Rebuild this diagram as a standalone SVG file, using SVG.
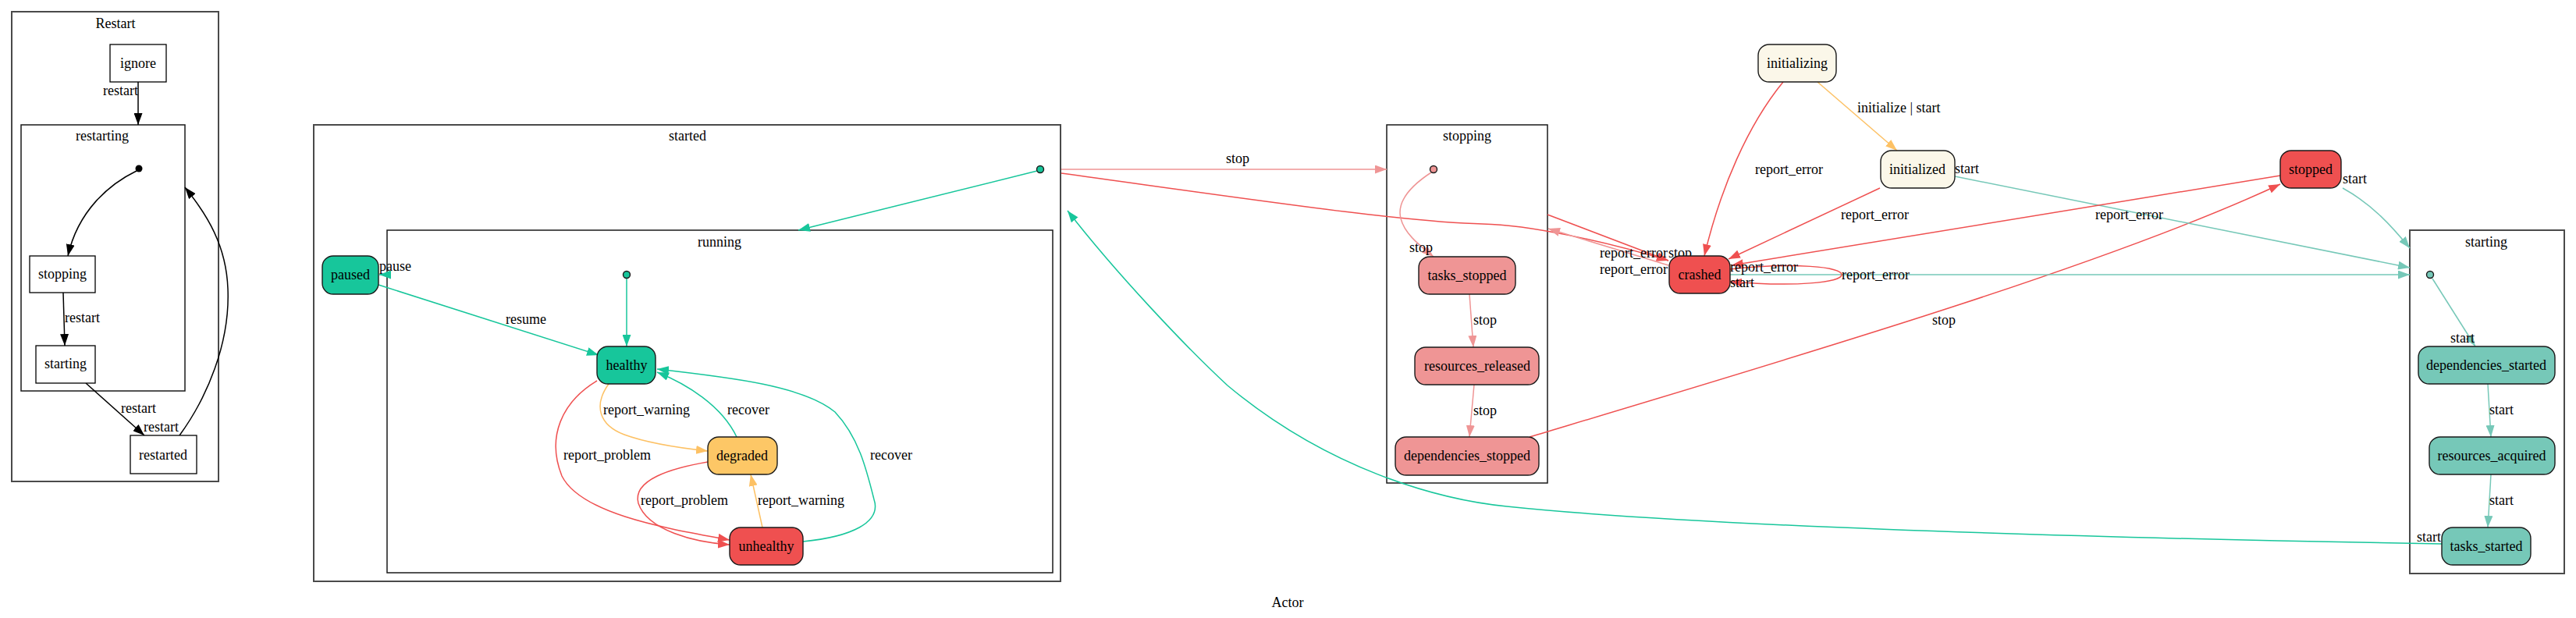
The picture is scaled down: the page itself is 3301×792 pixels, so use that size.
<svg xmlns="http://www.w3.org/2000/svg" width="3301" height="792" viewBox="0 0 3301 792">
<style>
text{font-family:"Liberation Serif","Times New Roman",serif;font-size:18px;fill:#000}
.c{text-anchor:middle}
.cl{fill:none;stroke:#4a4a4a;stroke-width:2}
.ci{fill:none;stroke:#1a1a1a;stroke-width:1.5}
.n{stroke:#1a1a1a;stroke-width:1.4}
.sq{fill:#fff;stroke:#000;stroke-width:1.3}
.e{fill:none;stroke-width:1.5}
.k{stroke:#000}.t{stroke:#17c69b}.g{stroke:#76c8b8}.r{stroke:#ef5050}.p{stroke:#ef9595}.o{stroke:#fdc164}
.fT{fill:#17c69b}.fG{fill:#76c8b8}.fR{fill:#ef5050}.fP{fill:#ef9595}.fO{fill:#fdc766}.fC{fill:#fbf7e9}
</style>
<defs>
<marker id="ak" markerUnits="userSpaceOnUse" markerWidth="15" markerHeight="11" refX="15" refY="5.5" orient="auto" viewBox="0 0 15 11"><path d="M0,0L15,5.5L0,11z" fill="#000"/></marker>
<marker id="at" markerUnits="userSpaceOnUse" markerWidth="15" markerHeight="11" refX="15" refY="5.5" orient="auto" viewBox="0 0 15 11"><path d="M0,0L15,5.5L0,11z" fill="#17c69b"/></marker>
<marker id="ag" markerUnits="userSpaceOnUse" markerWidth="15" markerHeight="11" refX="15" refY="5.5" orient="auto" viewBox="0 0 15 11"><path d="M0,0L15,5.5L0,11z" fill="#76c8b8"/></marker>
<marker id="ar" markerUnits="userSpaceOnUse" markerWidth="15" markerHeight="11" refX="15" refY="5.5" orient="auto" viewBox="0 0 15 11"><path d="M0,0L15,5.5L0,11z" fill="#ef5050"/></marker>
<marker id="ap" markerUnits="userSpaceOnUse" markerWidth="15" markerHeight="11" refX="15" refY="5.5" orient="auto" viewBox="0 0 15 11"><path d="M0,0L15,5.5L0,11z" fill="#ef9595"/></marker>
<marker id="ao" markerUnits="userSpaceOnUse" markerWidth="15" markerHeight="11" refX="15" refY="5.5" orient="auto" viewBox="0 0 15 11"><path d="M0,0L15,5.5L0,11z" fill="#fdc164"/></marker>
</defs>
<rect width="3301" height="792" fill="#fff"/>

<g id="clusters">
<g id="cluster-Restart"><rect class="cl" x="15" y="15" width="265" height="602"/><text class="c" x="148" y="36">Restart</text></g>
<g id="cluster-restarting"><rect class="ci" x="27" y="160" width="210" height="341"/><text class="c" x="131" y="180">restarting</text></g>
<g id="cluster-started"><rect class="cl" x="402" y="160" width="957" height="585"/><text class="c" x="881" y="180">started</text></g>
<g id="cluster-running"><rect class="ci" x="496" y="295" width="853" height="439"/><text class="c" x="922" y="316">running</text></g>
<g id="cluster-stopping"><rect class="ci" x="1777" y="160" width="206" height="459"/><text class="c" x="1880" y="180">stopping</text></g>
<g id="cluster-starting"><rect class="cl" x="3088" y="295" width="198" height="440"/><text class="c" x="3186" y="316">starting</text></g>
</g>

<g id="connectors">
<!-- Restart -->
<path class="e k" d="M177,105L177,160" marker-end="url(#ak)"/>
<path class="e k" d="M175,219C140,236 100,270 87,328" marker-end="url(#ak)"/>
<path class="e k" d="M81,375L83,443" marker-end="url(#ak)"/>
<path class="e k" d="M110,491L185,558" marker-end="url(#ak)"/>
<path class="e k" d="M230,558C265,510 295,440 292,370C290,315 266,276 237,240" marker-end="url(#ak)"/>
<text x="132" y="122">restart</text>
<text x="83" y="413">restart</text>
<text x="155" y="529">restart</text>
<text x="184" y="553">restart</text>

<!-- started / running -->
<path class="e t" d="M1329,219L1023,295" marker-end="url(#at)"/>
<path class="e t" d="M499,352L486,352" marker-end="url(#at)"/>
<path class="e t" d="M485,365L767,455" marker-end="url(#at)"/>
<path class="e t" d="M803,357L803,444" marker-end="url(#at)"/>
<path class="e o" d="M780,492C760,520 768,545 800,557C830,568 870,574 907,578" marker-end="url(#ao)"/>
<path class="e t" d="M944,560C925,520 880,492 842,477" marker-end="url(#at)"/>
<path class="e r" d="M765,488C720,515 700,560 720,610C745,660 860,678 935,692" marker-end="url(#ar)"/>
<path class="e r" d="M907,592C860,600 810,615 818,645C830,680 890,695 935,698" marker-end="url(#ar)"/>
<path class="e o" d="M977,676L962,608" marker-end="url(#ao)"/>
<path class="e t" d="M1029,694C1090,688 1130,670 1120,640C1110,600 1100,560 1070,528C1030,495 940,484 842,473" marker-end="url(#at)"/>
<text x="486" y="347">pause</text>
<text class="c" x="674" y="415">resume</text>
<text x="773" y="531">report_warning</text>
<text x="932" y="531">recover</text>
<text x="722" y="589">report_problem</text>
<text x="1115" y="589">recover</text>
<text x="821" y="647">report_problem</text>
<text x="971" y="647">report_warning</text>

<!-- started -> stopping, crashed -->
<path class="e p" d="M1360,217L1777,217" marker-end="url(#ap)"/>
<text class="c" x="1586" y="209">stop</text>
<path class="e r" d="M1360,222C1600,255 1800,285 1900,287C1960,288 2060,310 2138,334" marker-end="url(#ar)"/>
<path class="e r" d="M1983,275L2138,334" marker-end="url(#ar)"/>
<path class="e p" d="M2138,340L1984,293" marker-end="url(#ap)"/>

<!-- stopping -->
<path class="e p" d="M1834,221C1805,240 1790,260 1795,280C1800,300 1820,315 1837,329" marker-end="url(#ap)"/>
<path class="e p" d="M1883,377L1888,445" marker-end="url(#ap)"/>
<path class="e p" d="M1889,493L1883,560" marker-end="url(#ap)"/>
<text x="1806" y="323">stop</text>
<text x="1888" y="416">stop</text>
<text x="1888" y="532">stop</text>
<path class="e r" d="M1960,560C2300,458 2700,340 2922,236" marker-end="url(#ar)"/>
<text class="c" x="2491" y="416">stop</text>

<!-- tasks_started -> started -->
<path class="e t" d="M3129,697C2600,688 2150,672 1931,649C1840,640 1700,600 1573,494C1520,445 1430,350 1368,270" marker-end="url(#at)"/>
<text x="3097" y="694">start</text>

<!-- initializing / initialized -->
<path class="e o" d="M2329,105L2431,193" marker-end="url(#ao)"/>
<text x="2380" y="144">initialize | start</text>
<path class="e r" d="M2285,105C2240,160 2205,240 2184,328" marker-end="url(#ar)"/>
<text x="2249" y="223">report_error</text>
<path class="e r" d="M2409,241L2215,332" marker-end="url(#ar)"/>
<text x="2359" y="281">report_error</text>
<path class="e g" d="M2505,226L3088,343" marker-end="url(#ag)"/>
<text x="2505" y="222">start</text>

<!-- stopped -->
<path class="e r" d="M2922,225L2219,340" marker-end="url(#ar)"/>
<text x="2685" y="281">report_error</text>
<path class="e g" d="M3002,241C3040,262 3065,290 3088,318" marker-end="url(#ag)"/>
<text x="3002" y="235">start</text>

<!-- crashed -->
<path class="e g" d="M2217,352L3088,352" marker-end="url(#ag)"/>
<path class="e r" d="M2217,345C2300,336 2360,342 2360,352C2360,362 2300,368 2217,361" marker-end="url(#ar)"/>
<text x="2050" y="330">report_error</text>
<text x="2138" y="330">stop</text>
<text x="2050" y="351">report_error</text>
<text x="2217" y="348">report_error</text>
<text x="2360" y="358">report_error</text>
<text x="2217" y="368">start</text>

<!-- starting -->
<path class="e g" d="M3117,357L3172,444" marker-end="url(#ag)"/>
<path class="e g" d="M3188,492L3192,560" marker-end="url(#ag)"/>
<path class="e g" d="M3192,608L3188,676" marker-end="url(#ag)"/>
<text x="3140" y="439">start</text>
<text x="3190" y="531">start</text>
<text x="3190" y="647">start</text>
</g>

<g id="node-ignore"><rect class="sq" x="141" y="57" width="72" height="48"/><text class="c" x="177" y="87">ignore</text></g>
<g id="node-restart-init"><circle cx="178" cy="216" r="4.5" fill="#000"/></g>
<g id="node-restart-stopping"><rect class="sq" x="38" y="328" width="84" height="47"/><text class="c" x="80" y="357">stopping</text></g>
<g id="node-restart-starting"><rect class="sq" x="46" y="443" width="76" height="48"/><text class="c" x="84" y="472">starting</text></g>
<g id="node-restarted"><rect class="sq" x="167" y="558" width="85" height="49"/><text class="c" x="209" y="589">restarted</text></g>

<g id="node-started-init"><circle class="n fT" cx="1333" cy="217" r="4.5"/></g>
<g id="node-paused"><rect class="n fT" x="413" y="328" width="72" height="49" rx="14"/><text class="c" x="449" y="358">paused</text></g>
<g id="node-running-init"><circle class="n fT" cx="803" cy="352" r="4.5"/></g>
<g id="node-healthy"><rect class="n fT" x="765" y="444" width="75" height="48" rx="14"/><text class="c" x="803" y="474">healthy</text></g>
<g id="node-degraded"><rect class="n fO" x="907" y="560" width="89" height="48" rx="14"/><text class="c" x="951" y="590">degraded</text></g>
<g id="node-unhealthy"><rect class="n fR" x="935" y="676" width="94" height="48" rx="14"/><text class="c" x="982" y="706">unhealthy</text></g>

<g id="node-stopping-init"><circle class="n fP" cx="1837" cy="217" r="4.5"/></g>
<g id="node-tasks_stopped"><rect class="n fP" x="1818" y="329" width="124" height="48" rx="14"/><text class="c" x="1880" y="359">tasks_stopped</text></g>
<g id="node-resources_released"><rect class="n fP" x="1813" y="445" width="159" height="48" rx="14"/><text class="c" x="1893" y="475">resources_released</text></g>
<g id="node-dependencies_stopped"><rect class="n fP" x="1788" y="560" width="184" height="49" rx="14"/><text class="c" x="1880" y="590">dependencies_stopped</text></g>

<g id="node-crashed"><rect class="n fR" x="2139" y="328" width="78" height="48" rx="14"/><text class="c" x="2178" y="358">crashed</text></g>
<g id="node-initializing"><rect class="n fC" x="2253" y="57" width="100" height="48" rx="14"/><text class="c" x="2303" y="87">initializing</text></g>
<g id="node-initialized"><rect class="n fC" x="2410" y="193" width="95" height="48" rx="14"/><text class="c" x="2457" y="223">initialized</text></g>
<g id="node-stopped"><rect class="n fR" x="2922" y="193" width="78" height="48" rx="14"/><text class="c" x="2961" y="223">stopped</text></g>

<g id="node-starting-init"><circle class="n fG" cx="3114" cy="352" r="4.5"/></g>
<g id="node-dependencies_started"><rect class="n fG" x="3099" y="444" width="175" height="48" rx="14"/><text class="c" x="3186" y="474">dependencies_started</text></g>
<g id="node-resources_acquired"><rect class="n fG" x="3113" y="560" width="161" height="48" rx="14"/><text class="c" x="3193" y="590">resources_acquired</text></g>
<g id="node-tasks_started"><rect class="n fG" x="3129" y="676" width="114" height="48" rx="14"/><text class="c" x="3186" y="706">tasks_started</text></g>

<text class="c" x="1650" y="778">Actor</text>
</svg>
